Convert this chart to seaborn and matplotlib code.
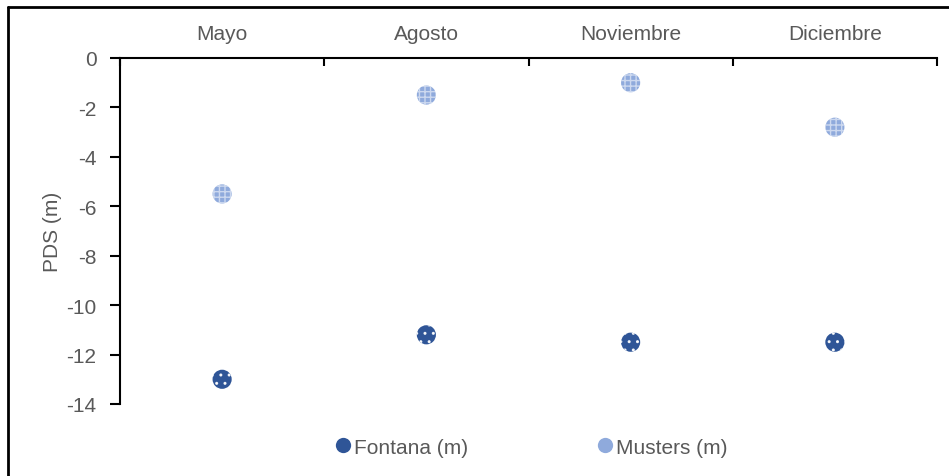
import matplotlib
matplotlib.use("Agg")
import matplotlib.pyplot as plt
from matplotlib.lines import Line2D
import seaborn as sns
import pandas as pd
import numpy as np

# Monthly PDS readings (m) at the two stations
months = ["Mayo", "Agosto", "Noviembre", "Diciembre"]
fontana = [-13.0, -11.2, -11.5, -11.5]
musters = [-5.5, -1.5, -1.0, -2.8]
series_names = ["Fontana (m)", "Musters (m)"]

sns.set_theme(style="white")
plt.rcParams["font.family"] = ["Liberation Sans", "DejaVu Sans"]
plt.rcParams["hatch.linewidth"] = 1.0

df = pd.DataFrame({
    "mes": months * 2,
    "pos": list(range(len(months))) * 2,
    "valor": fontana + musters,
    "serie": [series_names[0]] * len(months) + [series_names[1]] * len(months),
})

dark = "#2F5597"
light = "#8FAADC"
gray = "#595959"
fs = 15

fig = plt.figure(figsize=(9.49, 4.77), dpi=100)
ax = fig.add_axes([120 / 949, 1 - 405 / 477, 817 / 949, 346 / 477])

sns.scatterplot(data=df, x="pos", y="valor", hue="serie",
                palette={series_names[0]: dark, series_names[1]: light},
                s=190, linewidth=0, ax=ax, legend=False, zorder=3)

# white pattern inside the markers
hatches = {series_names[0]: "..", series_names[1]: "+++"}
hatch_colors = {series_names[0]: (1, 1, 1, 0.9), series_names[1]: (1, 1, 1, 0.55)}
for name, grp in df.groupby("serie"):
    ax.scatter(grp["pos"], grp["valor"], s=190, facecolor="none",
               edgecolor=hatch_colors[name], linewidth=0, hatch=hatches[name], zorder=4)

ax.set_xlim(-0.5, len(months) - 0.5)
ax.set_ylim(-14, 0)
ax.set_yticks(np.arange(-14, 1, 2))
ax.set_yticklabels([str(v) for v in range(-14, 1, 2)])

# category boundaries on the top axis, names centred between them
ax.xaxis.tick_top()
ax.set_xticks(np.arange(-0.5, len(months), 1.0))
ax.set_xticklabels([])
ax.set_xticks(range(len(months)), minor=True)
ax.set_xticklabels(months, minor=True)
ax.tick_params(axis="x", which="major", direction="in", length=6, width=1.5,
               color="black", top=True, bottom=False)
ax.tick_params(axis="x", which="minor", length=0, pad=11, labelsize=fs,
               labelcolor=gray, top=True, bottom=False)
ax.tick_params(axis="y", direction="out", length=7, width=1.5, color="black",
               labelsize=fs, labelcolor=gray, left=True, pad=10)
ax.set_xlabel("")
ax.set_ylabel("PDS (m)", fontsize=fs, color=gray)
ax.yaxis.set_label_coords((62 - 120) / 817, 0.5)

for side in ["bottom", "right"]:
    ax.spines[side].set_visible(False)
for side in ["top", "left"]:
    ax.spines[side].set_color("black")
    ax.spines[side].set_linewidth(1.5)

handles = [
    Line2D([], [], marker="o", linestyle="", markersize=11, markerfacecolor=dark,
           markeredgewidth=0),
    Line2D([], [], marker="o", linestyle="", markersize=11, markerfacecolor=light,
           markeredgewidth=0),
]
fig.legend(handles, series_names, loc="center", bbox_to_anchor=(530 / 949, 1 - 448 / 477),
           ncol=2, frameon=False, fontsize=fs, labelcolor=gray, handletextpad=0.0,
           columnspacing=6.1, handlelength=1.0)

# outer frame on the top and left edges
fig.add_artist(Line2D([8 / 949, 8 / 949], [0, 1 - 8 / 477], transform=fig.transFigure,
                      color="black", linewidth=2))
fig.add_artist(Line2D([8 / 949, 1], [1 - 8 / 477, 1 - 8 / 477], transform=fig.transFigure,
                      color="black", linewidth=2))

fig.savefig("out.png", dpi=100, facecolor="white")
